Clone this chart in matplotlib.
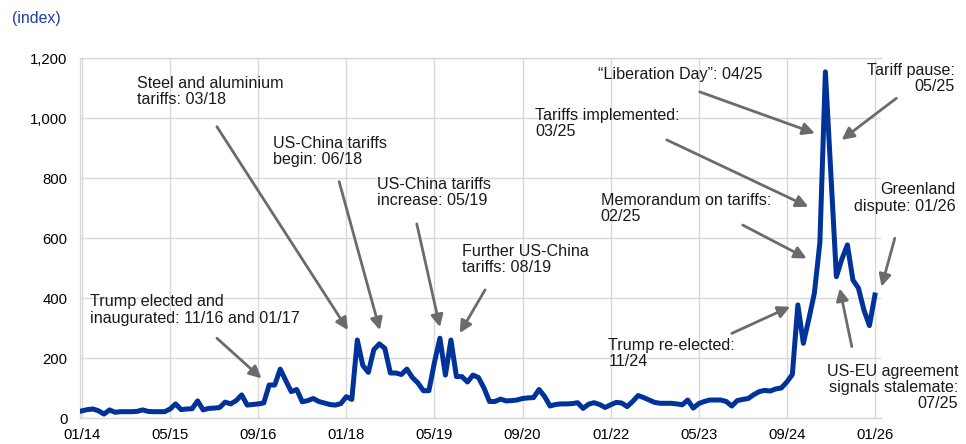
import numpy as np
import matplotlib
matplotlib.use("Agg")
import matplotlib.pyplot as plt

plt.rcParams['font.family'] = ['Liberation Sans', 'DejaVu Sans']

# Monthly index, 01/2014 .. 01/2026
values = [
    # 2014
    24, 28, 30, 24, 13, 27, 19, 21, 21, 21, 22, 27,
    # 2015
    22, 21, 21, 21, 30, 47, 28, 30, 31, 57, 27, 32,
    # 2016
    33, 35, 53, 47, 58, 77, 43, 45, 47, 50, 110, 110,
    # 2017
    163, 125, 88, 95, 54, 58, 65, 55, 50, 45, 43, 48,
    # 2018
    71, 62, 260, 175, 152, 228, 247, 232, 150, 150, 145, 163,
    # 2019
    135, 117, 91, 91, 185, 266, 143, 260, 138, 138, 120, 143,
    # 2020
    135, 100, 55, 55, 63, 57, 58, 60, 65, 67, 68, 95,
    # 2021
    72, 40, 45, 47, 47, 48, 51, 32, 46, 51, 45, 35,
    # 2022
    44, 52, 50, 38, 55, 75, 68, 60, 52, 49, 49, 49,
    # 2023
    47, 44, 60, 33, 48, 55, 60, 60, 60, 55, 40, 58,
    # 2024
    62, 65, 78, 88, 92, 90, 97, 100, 120, 145, 377, 249,
    # 2025
    330, 416, 585, 1154, 810, 471, 530, 577, 460, 433, 360, 308,
    # 2026
    410,
]
tick_labels = ['01/14', '05/15', '09/16', '01/18', '05/19',
               '09/20', '01/22', '05/23', '09/24', '01/26']
y_ticks = [0, 200, 400, 600, 800, 1000, 1200]

annotations = [
    # text, text pos (month, value), align, arrow start, arrow tip
    ("Trump elected and\ninaugurated: 11/16 and 01/17", (1.45, 412), 'left', (24.5, 266), (32.6, 132)),
    ("Steel and aluminium\ntariffs: 03/18", (10.0, 1140), 'left', (24.5, 971), (48.3, 293)),
    ("US-China tariffs\nbegin: 06/18", (34.6, 940), 'left', (46.7, 788), (54.1, 293)),
    ("US-China tariffs\nincrease: 05/19", (53.6, 803), 'left', (60.8, 647), (65.0, 303)),
    ("Further US-China\ntariffs: 08/19", (69.1, 580), 'left', (73.2, 427), (68.6, 283)),
    ("Trump re-elected:\n11/24", (95.6, 268), 'left', (118.0, 282), (128.6, 371)),
    ("Memorandum on tariffs:\n02/25", (94.2, 750), 'left', (120.0, 643), (131.6, 532)),
    ("Tariffs implemented:\n03/25", (82.3, 1033), 'left', (106.2, 927), (131.9, 704)),
    ("\u201cLiberation Day\u201d: 04/25", (93.7, 1170), 'left', (112.2, 1087), (133.1, 949)),
    ("Tariff pause:\n05/25", (158.5, 1185), 'right', (147.9, 1066), (137.95, 927)),
    ("Greenland\ndispute: 01/26", (158.7, 785), 'right', (147.6, 599), (145.2, 438)),
    ("US-EU agreement\nsignals stalemate:\n07/25", (159.1, 180), 'right', (139.8, 238), (137.6, 432)),
]

W, H = 966, 444
fig = plt.figure(figsize=(W / 100, H / 100), dpi=100)
ax = fig.add_axes([80 / W, 26 / H, (881 - 80) / W, (418 - 58) / H])

x = np.arange(len(values))
ax.plot(x, values, color='#003399', lw=3.6, solid_joinstyle='round', zorder=3)

ax.set_xlim(-0.36, 145.1)
ax.set_ylim(0, 1200)
ax.set_xticks(np.arange(0, 16 * len(tick_labels), 16))
ax.set_xticklabels(tick_labels)
ax.set_yticks(y_ticks)
ax.set_yticklabels([f"{v:,}" for v in y_ticks])
ax.grid(True, color='#d9d9d9', lw=1.0, zorder=0)
ax.set_axisbelow(True)
for s in ['left', 'top', 'bottom']:
    ax.spines[s].set_color('#d9d9d9')
    ax.spines[s].set_linewidth(1.0)
ax.spines['right'].set_visible(False)
ax.tick_params(axis='both', length=0, labelsize=10.7, colors='#000000')
ax.tick_params(axis='y', pad=9)
ax.tick_params(axis='x', pad=7)

for text, tpos, ha, start, tip in annotations:
    ax.text(tpos[0], tpos[1], text, ha=ha, va='top', fontsize=11.6,
            color='#1a1a1a', linespacing=1.1, multialignment=ha,
            clip_on=False, zorder=4)
    ax.annotate('', xy=tip, xytext=start, annotation_clip=False,
                arrowprops=dict(arrowstyle='-|>', color='#6b6b6b', lw=2.0,
                                mutation_scale=18, shrinkA=0, shrinkB=0),
                zorder=4)

fig.text(12 / W, 1 - 18 / H, "(index)", color='#1f3fa8', fontsize=11.4,
         ha='left', va='center')

fig.savefig('out.png', dpi=100)
